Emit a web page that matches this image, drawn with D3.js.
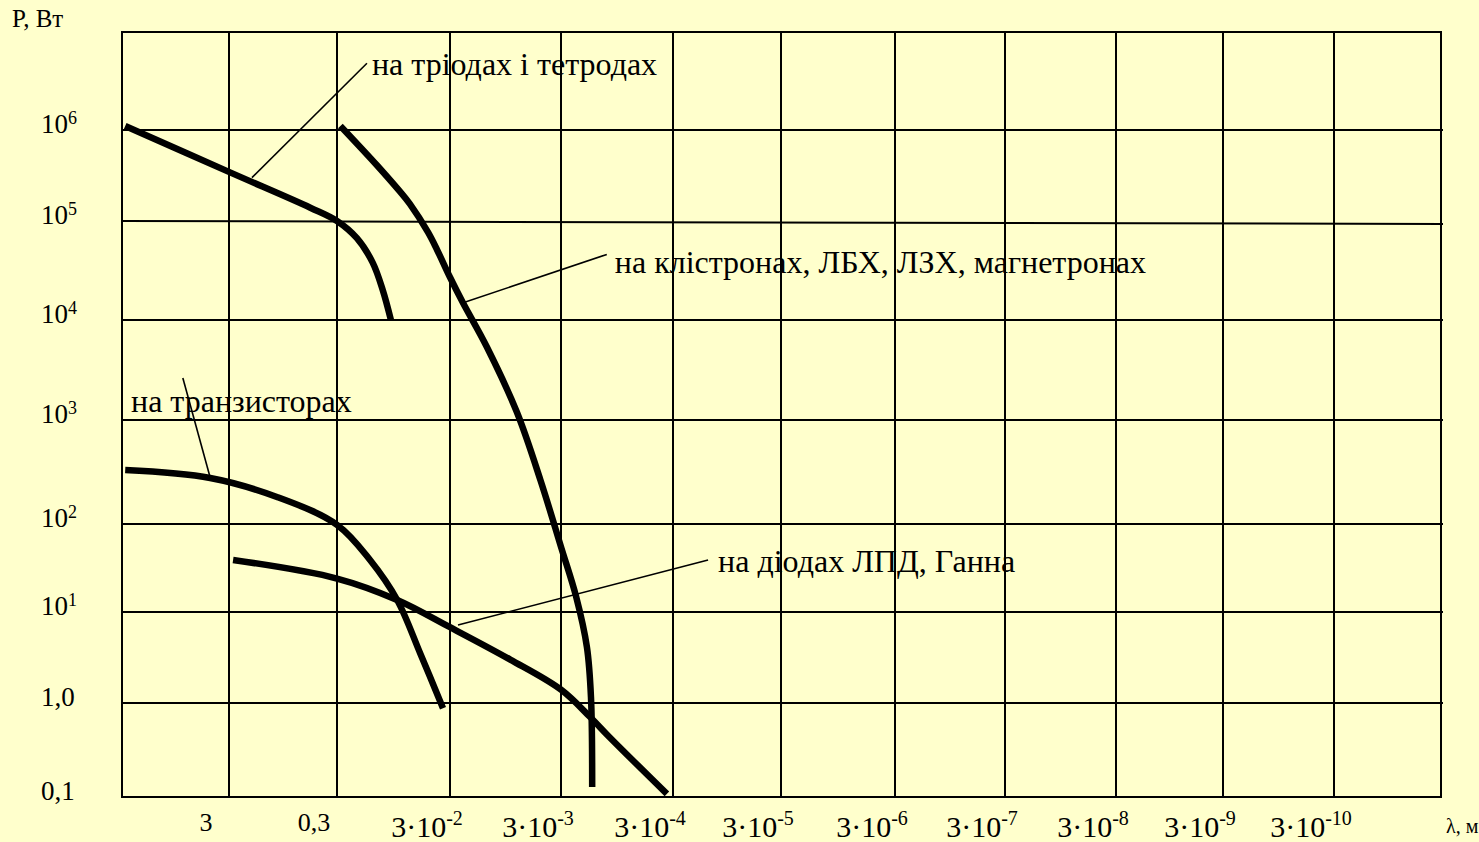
<!DOCTYPE html>
<html>
<head>
<meta charset="utf-8">
<script src="https://cdn.jsdelivr.net/npm/d3@7"></script>
<style>
  html, body { margin: 0; padding: 0; background: #ffffcc; }
  svg { display: block; font-family: "Liberation Serif", "Times New Roman", serif; }
</style>
</head>
<body>
<svg id="chart" width="1479" height="842"></svg>
<script>
// Wavelength axis (metres): grid lines and their labels [base, exponent]
const lambdaTicks = [3, 0.3, 3e-2, 3e-3, 3e-4, 3e-5, 3e-6, 3e-7, 3e-8, 3e-9, 3e-10];
const lambdaLabels = [
  ["3", ""], ["0,3", ""], ["3·10", "-2"], ["3·10", "-3"], ["3·10", "-4"], ["3·10", "-5"],
  ["3·10", "-6"], ["3·10", "-7"], ["3·10", "-8"], ["3·10", "-9"], ["3·10", "-10"]
];
const lambdaRange = [30, 3e-11];

// Power axis (W): grid lines and their labels [base, exponent]
const powerTicks = [0.1, 1, 10, 100, 1e3, 1e4, 1e5, 1e6];
const powerLabels = [
  ["0,1", ""], ["1,0", ""], ["10", "1"], ["10", "2"], ["10", "3"], ["10", "4"], ["10", "5"], ["10", "6"]
];
const powerTop = 1e7;

// Output power vs wavelength for each device class: [λ, м ; P, Вт]
const triodes = [[28, 1.1e6], [2.9, 3.4e5], [0.53, 1.4e5], [0.3, 1.0e5], [0.2, 6.7e4],
  [0.145, 3.8e4], [0.118, 2.0e4], [0.1, 1.0e4]];
const klystrons = [[0.28, 1.1e6], [0.133, 4.1e5], [0.083, 2.1e5], [0.068, 1.54e5], [0.047, 7.7e4],
  [0.039, 5.1e4], [0.03, 2.7e4], [0.023, 1.5e4], [0.014, 5.4e3], [0.0075, 1.2e3], [0.0046, 265],
  [0.003, 55], [0.0022, 15], [0.00176, 4.1], [0.00162, 1.16], [0.00158, 0.128]];
const transistors = [[28, 330], [4.5, 277], [1.08, 182], [0.3, 98], [0.153, 39], [0.088, 13.7],
  [0.055, 3.5], [0.0346, 0.88]];
const diodes = [[2.75, 39], [0.3, 24], [0.088, 13.7], [0.03, 6.8], [0.0086, 3.0], [0.003, 1.4],
  [0.00165, 0.71], [0.0011, 0.43], [0.00034, 0.108]];

// Captions with their pointer lines (from the curve to the caption)
const captions = [
  { text: "на тріодах і тетродах", leader: [[1.84, 3.0e5], [0.163, 4.8e6]], at: [0.163, 4.8e6], dx: 5, dy: 12 },
  { text: "на клістронах, ЛБХ, ЛЗХ, магнетронах", leader: [[0.0225, 1.5e4], [0.00117, 4.6e4]], at: [0.00117, 4.6e4], dx: 8, dy: 19 },
  { text: "на транзисторах", leader: [[4.5, 280], [8.1, 2630]], at: [24.7, 1200], dx: 0, dy: 0 },
  { text: "на діодах ЛПД, Ганна", leader: [[0.0254, 7.2], [1.42e-4, 39]], at: [1.42e-4, 39], dx: 10, dy: 12 }
];

const svg = d3.select("#chart");

// The grid of the original sheet is hand-ruled, so the scales are piecewise
const x = d3.scaleLog()
  .domain([lambdaRange[0], ...lambdaTicks, lambdaRange[1]])
  .range([122, 229, 337, 450, 561, 673, 781, 895, 1005, 1116, 1223, 1334, 1441]);
const y = d3.scaleLog()
  .domain([...powerTicks, powerTop])
  .range([797, 703, 612, 524, 420, 320, 221, 130, 32]);

const ink = "#000";
const x0 = x(lambdaRange[0]), x1 = x(lambdaRange[1]);
const y0 = y(powerTicks[0]), y1 = y(powerTop);

// Axis titles
svg.append("text").attr("x", 12).attr("y", 27).attr("font-size", 25).attr("fill", ink).text("P, Вт");
svg.append("text").attr("x", 1446).attr("y", 833).attr("font-size", 20).attr("fill", ink).text("λ, м");

// Power tick labels
const yl = svg.append("g").attr("font-size", 27).attr("fill", ink);
powerTicks.forEach((v, i) => {
  const t = yl.append("text").attr("x", 41).attr("y", y(v) + 3);
  t.append("tspan").text(powerLabels[i][0]);
  if (powerLabels[i][1]) t.append("tspan").attr("font-size", 18).attr("dy", -9).text(powerLabels[i][1]);
});

// Wavelength tick labels, set a little left of their grid lines
const xl = svg.append("g").attr("fill", ink).attr("text-anchor", "middle");
lambdaTicks.forEach((v, i) => {
  const [base, exp] = lambdaLabels[i];
  const t = xl.append("text").attr("x", x(v) - 23)
    .attr("y", exp ? 837 : 831).attr("font-size", exp ? 30 : 26);
  t.append("tspan").text(base);
  if (exp) t.append("tspan").attr("font-size", 20).attr("dy", -12).text(exp);
});

// Curve captions
const cap = svg.append("g").attr("font-size", 32).attr("fill", ink);
captions.forEach(c => {
  cap.append("text").attr("x", x(c.at[0]) + c.dx).attr("y", y(c.at[1]) + c.dy).text(c.text);
});

// Grid
const grid = svg.append("g").attr("stroke", ink).attr("stroke-width", 2).attr("fill", "none");
grid.selectAll("line.v").data(lambdaTicks).join("line").attr("class", "v")
  .attr("x1", d => x(d)).attr("x2", d => x(d)).attr("y1", y1).attr("y2", y0);
grid.selectAll("line.h").data(powerTicks.slice(1)).join("line").attr("class", "h")
  .attr("x1", x0).attr("x2", x1 + 2)
  .attr("y1", d => y(d)).attr("y2", d => y(d) + (d === 1e5 ? 3 : 0));
grid.append("rect").attr("x", x0).attr("y", y1).attr("width", x1 - x0).attr("height", y0 - y1);

// Pointer lines
const line = d3.line().x(d => x(d[0])).y(d => y(d[1]));
svg.append("g").attr("stroke", ink).attr("stroke-width", 1.6).attr("fill", "none")
  .selectAll("path").data(captions).join("path").attr("d", c => line(c.leader));

// Power curves
const curve = d3.line().x(d => x(d[0])).y(d => y(d[1])).curve(d3.curveCatmullRom.alpha(0.5));
svg.append("g").attr("stroke", ink).attr("stroke-width", 6.5).attr("fill", "none")
  .attr("stroke-linecap", "butt").attr("stroke-linejoin", "round")
  .selectAll("path").data([triodes, klystrons, transistors, diodes]).join("path")
  .attr("d", d => curve(d));
</script>
</body>
</html>
